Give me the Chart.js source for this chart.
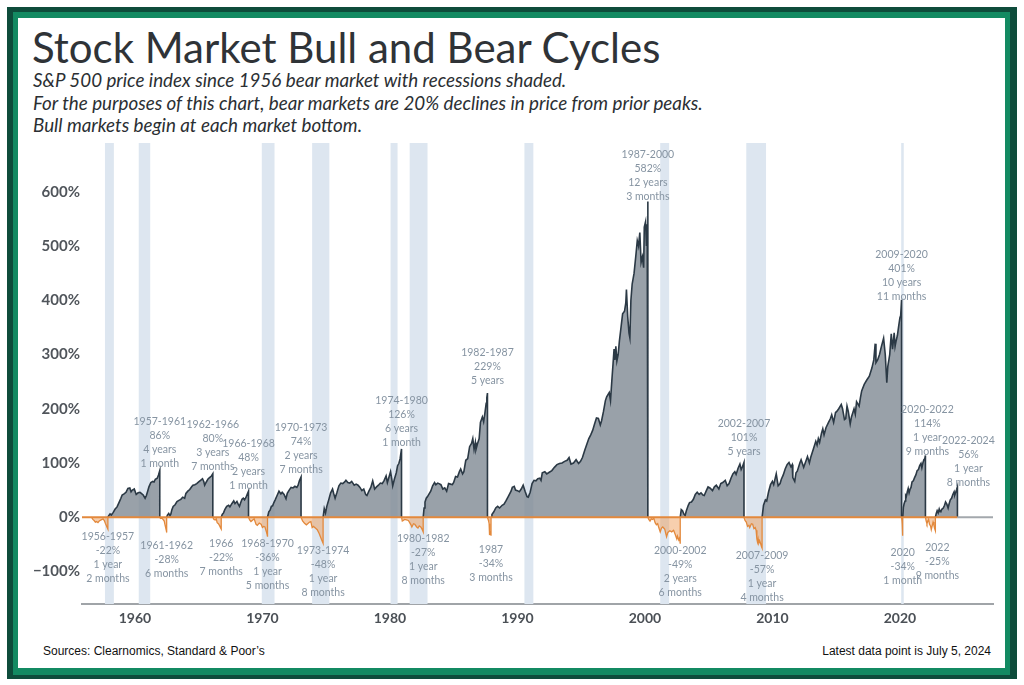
<!DOCTYPE html>
<html>
<head>
<meta charset="utf-8">
<title>Stock Market Bull and Bear Cycles</title>
<script src="https://cdn.jsdelivr.net/npm/chart.js@4.4.1/dist/chart.umd.min.js"></script>
<style>
    html, body { margin: 0; padding: 0; background: #fff; }
    body { width: 1024px; height: 685px; position: relative; overflow: hidden; font-family: Lato, "Noto Sans", sans-serif; }
    .frame-outer { position: absolute; left: 7px; top: 7px; width: 1010px; height: 672px; background: #0e4c3b; }
    .frame-inner { position: absolute; left: 13px; top: 12px; width: 997px; height: 663px; background: #138a62; }
    .paper { position: absolute; left: 18px; top: 18px; width: 987px; height: 650px; background: #fff; }
    #title { position: absolute; left: 32px; top: 22px; font-size: 42px; color: #2f3337; white-space: nowrap; }
    #subtitle { position: absolute; left: 33px; top: 69px; font-size: 18.8px; line-height: 22.5px; font-style: italic; color: #2b2f33; white-space: nowrap; }
    #chart-box { position: absolute; left: 20px; top: 130px; width: 980px; height: 510px; }
    .note { position: absolute; top: 644px; font-family: "Liberation Sans", Arial, sans-serif; font-size: 12px; color: #111; white-space: nowrap; }
</style>
</head>
<body>
<div class="frame-outer"></div>
<div class="frame-inner"></div>
<div class="paper"></div>
<div id="title">Stock Market Bull and Bear Cycles</div>
<div id="subtitle">S&amp;P 500 price index since 1956 bear market with recessions shaded.<br>For the purposes of this chart, bear markets are 20% declines in price from prior peaks.<br>Bull markets begin at each market bottom.</div>
<div id="chart-box"><canvas id="cycles" width="980" height="510"></canvas></div>
<div class="note" style="left:43px;">Sources: Clearnomics, Standard &amp; Poor’s</div>
<div class="note" style="right:33px;">Latest data point is July 5, 2024</div>

<script>
// Axis ticks
const xTicks = [1960, 1970, 1980, 1990, 2000, 2010, 2020];
const yTicks = [-100, 0, 100, 200, 300, 400, 500, 600];

// Recessions [start, end] in years
const recessions = [
    [1957.65, 1958.35], [1960.3, 1961.2], [1969.95, 1970.95], [1973.9, 1975.25],
    [1980.05, 1980.6], [1981.55, 1982.95], [1990.55, 1991.25], [2001.2, 2001.9],
    [2007.95, 2009.5], [2020.1, 2020.3]
];

// Bear markets: [year, % change from prior peak]
const bear1956 = [[1956.59,0],[1956.7,-4],[1956.8,-6],[1956.9,-9],[1957.0,-8],[1957.1,-10],[1957.2,-7],[1957.35,-5],[1957.5,-3],[1957.6,-6],[1957.68,-11],[1957.75,-15],[1957.82,-19],[1957.88,-22]];
const bear1961 = [[1961.95,0],[1962.0,-2],[1962.1,-1],[1962.2,-4],[1962.3,-7],[1962.37,-15],[1962.42,-20],[1962.46,-24],[1962.49,-28]];
const bear1966 = [[1966.11,0],[1966.2,-4],[1966.3,-5],[1966.38,-3],[1966.45,-10],[1966.55,-12],[1966.65,-16],[1966.72,-20],[1966.77,-22]];
const bear1968 = [[1968.91,0],[1969.0,-5],[1969.1,-8],[1969.2,-6],[1969.35,-3],[1969.5,-13],[1969.6,-15],[1969.75,-11],[1969.9,-13],[1970.0,-19],[1970.1,-17],[1970.2,-18],[1970.3,-26],[1970.36,-31],[1970.4,-36]];
const bear1973 = [[1973.03,0],[1973.15,-7],[1973.3,-11],[1973.45,-14],[1973.55,-12],[1973.7,-9],[1973.8,-8],[1973.9,-19],[1974.0,-17],[1974.15,-20],[1974.3,-23],[1974.45,-30],[1974.55,-36],[1974.65,-42],[1974.76,-48]];
const bear1980 = [[1980.91,0],[1980.97,-7],[1981.05,-6],[1981.15,-4],[1981.3,-5],[1981.45,-6],[1981.55,-10],[1981.65,-14],[1981.72,-18],[1981.85,-12],[1981.95,-13],[1982.1,-18],[1982.2,-20],[1982.3,-16],[1982.42,-18],[1982.52,-22],[1982.61,-27]];
const bear1987 = [[1987.65,0],[1987.7,-4],[1987.75,-8],[1987.78,-12],[1987.8,-33],[1987.83,-26],[1987.88,-27],[1987.93,-34]];
const bear2000 = [[2000.23,0],[2000.3,-4],[2000.4,-7],[2000.5,-3],[2000.6,-4],[2000.7,-2],[2000.8,-10],[2000.9,-14],[2001.0,-12],[2001.1,-20],[2001.2,-27],[2001.3,-20],[2001.4,-18],[2001.55,-22],[2001.7,-36],[2001.8,-28],[2001.95,-25],[2002.1,-27],[2002.25,-24],[2002.35,-30],[2002.5,-40],[2002.55,-35],[2002.65,-42],[2002.72,-38],[2002.77,-49]];
const bear2007 = [[2007.77,0],[2007.85,-6],[2007.95,-9],[2008.05,-17],[2008.15,-15],[2008.22,-19],[2008.35,-12],[2008.45,-13],[2008.55,-21],[2008.65,-19],[2008.72,-24],[2008.78,-40],[2008.83,-46],[2008.88,-40],[2008.93,-48],[2009.0,-44],[2009.08,-49],[2009.14,-54],[2009.19,-57]];
const bear2020 = [[2020.13,0],[2020.16,-6],[2020.18,-13],[2020.2,-25],[2020.22,-34]];
const bear2022 = [[2022.0,0],[2022.05,-6],[2022.12,-12],[2022.18,-8],[2022.25,-4],[2022.32,-13],[2022.4,-16],[2022.46,-23],[2022.52,-17],[2022.6,-9],[2022.66,-14],[2022.72,-21],[2022.78,-25]];

// Bull markets: [year, % gain from market bottom]
const bull1957 = [[1957.88,0],[1957.95,3],[1958.05,6],[1958.15,4],[1958.3,9],[1958.45,15],[1958.6,19],[1958.75,27],[1958.9,35],[1959.0,41],[1959.15,43],[1959.3,46],[1959.45,53],[1959.6,54],[1959.7,47],[1959.8,50],[1959.95,52],[1960.1,42],[1960.25,45],[1960.4,46],[1960.5,44],[1960.65,41],[1960.8,35],[1960.9,40],[1961.0,48],[1961.1,56],[1961.25,64],[1961.4,66],[1961.5,65],[1961.6,70],[1961.75,72],[1961.85,78],[1961.95,86]];
const bull1962 = [[1962.49,0],[1962.55,4],[1962.65,7],[1962.75,3],[1962.82,6],[1962.9,14],[1963.0,20],[1963.15,23],[1963.3,29],[1963.45,31],[1963.6,33],[1963.75,37],[1963.9,35],[1964.0,44],[1964.15,48],[1964.3,51],[1964.45,56],[1964.55,59],[1964.7,60],[1964.85,62],[1965.0,65],[1965.15,68],[1965.3,71],[1965.4,66],[1965.47,59],[1965.6,65],[1965.75,71],[1965.9,74],[1966.0,76],[1966.11,80]];
const bull1966 = [[1966.77,0],[1966.85,5],[1966.95,8],[1967.05,14],[1967.2,20],[1967.35,22],[1967.45,19],[1967.6,25],[1967.75,30],[1967.85,25],[1968.0,29],[1968.1,24],[1968.2,20],[1968.3,27],[1968.4,33],[1968.5,35],[1968.6,32],[1968.7,36],[1968.8,42],[1968.91,48]];
const bull1970 = [[1970.4,0],[1970.5,10],[1970.6,13],[1970.7,20],[1970.8,21],[1970.9,27],[1971.0,32],[1971.15,40],[1971.3,48],[1971.45,43],[1971.55,46],[1971.7,42],[1971.85,34],[1971.95,44],[1972.1,50],[1972.25,55],[1972.4,54],[1972.55,57],[1972.7,55],[1972.8,59],[1972.9,67],[1973.03,74]];
const bull1974 = [[1974.76,0],[1974.85,16],[1974.95,8],[1975.05,20],[1975.2,32],[1975.35,45],[1975.5,52],[1975.6,43],[1975.7,35],[1975.85,46],[1976.0,58],[1976.15,63],[1976.3,62],[1976.45,65],[1976.55,68],[1976.7,64],[1976.85,63],[1977.0,66],[1977.2,59],[1977.35,61],[1977.5,59],[1977.65,55],[1977.8,49],[1977.95,52],[1978.1,42],[1978.2,40],[1978.35,48],[1978.5,55],[1978.65,67],[1978.8,52],[1978.95,56],[1979.1,59],[1979.25,63],[1979.4,62],[1979.55,68],[1979.7,76],[1979.8,64],[1979.9,72],[1980.05,84],[1980.15,70],[1980.22,58],[1980.35,70],[1980.5,82],[1980.6,95],[1980.7,99],[1980.8,108],[1980.91,126]];
const bull1982 = [[1982.61,0],[1982.68,17],[1982.75,28],[1982.85,35],[1982.95,38],[1983.05,42],[1983.2,48],[1983.35,58],[1983.5,64],[1983.6,60],[1983.75,63],[1983.85,62],[1984.0,60],[1984.15,52],[1984.3,54],[1984.45,48],[1984.6,62],[1984.75,61],[1984.9,60],[1985.0,64],[1985.15,75],[1985.3,74],[1985.45,84],[1985.55,89],[1985.7,80],[1985.8,84],[1985.95,105],[1986.1,108],[1986.25,130],[1986.4,136],[1986.5,145],[1986.6,125],[1986.7,138],[1986.75,125],[1986.9,138],[1987.0,145],[1987.1,175],[1987.25,185],[1987.35,176],[1987.45,192],[1987.55,210],[1987.6,220],[1987.65,229]];
const bull1987 = [[1987.93,0],[1988.0,5],[1988.15,10],[1988.3,17],[1988.45,20],[1988.6,17],[1988.8,22],[1988.95,24],[1989.1,30],[1989.3,39],[1989.5,48],[1989.6,55],[1989.75,57],[1989.85,50],[1990.0,49],[1990.15,47],[1990.3,52],[1990.45,59],[1990.6,48],[1990.75,38],[1990.85,37],[1991.0,46],[1991.15,62],[1991.3,68],[1991.45,67],[1991.6,71],[1991.75,72],[1991.85,68],[1991.95,82],[1992.15,84],[1992.3,80],[1992.5,83],[1992.7,86],[1992.9,92],[1993.1,97],[1993.3,99],[1993.5,100],[1993.7,103],[1993.9,105],[1994.05,110],[1994.2,98],[1994.4,100],[1994.6,106],[1994.8,99],[1994.95,103],[1995.1,110],[1995.3,125],[1995.45,135],[1995.6,145],[1995.75,152],[1995.9,160],[1996.05,172],[1996.2,183],[1996.35,182],[1996.5,170],[1996.6,178],[1996.75,195],[1996.9,215],[1997.0,222],[1997.2,230],[1997.3,215],[1997.4,250],[1997.5,283],[1997.58,310],[1997.65,290],[1997.72,315],[1997.8,288],[1997.9,300],[1998.0,325],[1998.1,345],[1998.25,375],[1998.4,380],[1998.5,395],[1998.55,420],[1998.65,370],[1998.75,340],[1998.82,331],[1998.9,400],[1999.0,430],[1999.15,450],[1999.3,485],[1999.4,510],[1999.5,500],[1999.6,525],[1999.7,470],[1999.8,480],[1999.9,460],[1999.95,535],[2000.05,545],[2000.12,500],[2000.18,540],[2000.23,582]];
const bull2002 = [[2002.77,0],[2002.85,14],[2002.95,12],[2003.05,6],[2003.15,3],[2003.25,12],[2003.4,22],[2003.5,27],[2003.65,28],[2003.8,33],[2003.95,42],[2004.1,46],[2004.25,42],[2004.4,45],[2004.55,41],[2004.65,40],[2004.8,48],[2004.95,56],[2005.1,54],[2005.3,49],[2005.45,56],[2005.6,59],[2005.8,52],[2005.95,62],[2006.1,64],[2006.3,68],[2006.45,58],[2006.6,62],[2006.75,72],[2006.9,80],[2007.05,84],[2007.15,79],[2007.3,90],[2007.45,98],[2007.55,88],[2007.65,93],[2007.77,101]];
const bull2009 = [[2009.19,0],[2009.3,22],[2009.45,32],[2009.55,30],[2009.7,47],[2009.85,60],[2010.0,66],[2010.1,60],[2010.3,80],[2010.45,58],[2010.6,62],[2010.7,70],[2010.85,78],[2011.0,89],[2011.15,97],[2011.3,101],[2011.45,93],[2011.55,97],[2011.6,73],[2011.75,66],[2011.85,82],[2011.95,85],[2012.15,100],[2012.25,106],[2012.45,92],[2012.6,102],[2012.75,112],[2012.9,100],[2013.0,110],[2013.2,125],[2013.4,140],[2013.5,133],[2013.6,145],[2013.7,138],[2013.85,155],[2013.95,163],[2014.05,152],[2014.2,165],[2014.4,175],[2014.55,182],[2014.65,189],[2014.8,175],[2014.95,193],[2015.05,195],[2015.2,200],[2015.4,208],[2015.5,200],[2015.65,180],[2015.75,182],[2015.85,205],[2015.95,195],[2016.1,172],[2016.2,185],[2016.4,200],[2016.5,190],[2016.6,213],[2016.8,205],[2016.9,220],[2017.0,233],[2017.2,245],[2017.4,253],[2017.6,260],[2017.8,275],[2017.95,290],[2018.06,320],[2018.12,285],[2018.25,290],[2018.4,300],[2018.55,315],[2018.72,330],[2018.85,300],[2018.97,248],[2019.05,278],[2019.2,300],[2019.32,338],[2019.42,310],[2019.55,340],[2019.62,315],[2019.7,325],[2019.8,335],[2019.9,352],[2020.0,368],[2020.06,372],[2020.13,401]];
const bull2020 = [[2020.22,0],[2020.27,18],[2020.33,25],[2020.4,30],[2020.45,40],[2020.5,38],[2020.58,47],[2020.65,53],[2020.72,45],[2020.8,52],[2020.87,55],[2020.95,65],[2021.05,67],[2021.15,73],[2021.25,78],[2021.35,86],[2021.45,88],[2021.55,95],[2021.65,99],[2021.72,91],[2021.8,100],[2021.88,106],[2021.95,108],[2022.0,114]];
const bull2022 = [[2022.78,0],[2022.85,7],[2022.92,12],[2023.0,8],[2023.08,15],[2023.15,10],[2023.22,12],[2023.3,15],[2023.4,17],[2023.5,22],[2023.58,28],[2023.68,24],[2023.78,17],[2023.85,24],[2023.95,32],[2024.05,35],[2024.15,42],[2024.25,47],[2024.3,41],[2024.38,46],[2024.45,51],[2024.51,56]];

const bearCycles = [bear1956, bear1961, bear1966, bear1968, bear1973, bear1980, bear1987, bear2000, bear2007, bear2020, bear2022];
const bullCycles = [bull1957, bull1962, bull1966, bull1970, bull1974, bull1982, bull1987, bull2002, bull2009, bull2020, bull2022];

// Annotation text for each cycle
const bearLabels = [
    ['1956-1957', '-22%', '1 year', '2 months'], ['1961-1962', '-28%', '6 months'], ['1966', '-22%', '7 months'],
    ['1968-1970', '-36%', '1 year', '5 months'], ['1973-1974', '-48%', '1 year', '8 months'], ['1980-1982', '-27%', '1 year', '8 months'],
    ['1987', '-34%', '3 months'], ['2000-2002', '-49%', '2 years', '6 months'], ['2007-2009', '-57%', '1 year', '4 months'],
    ['2020', '-34%', '1 month'], ['2022', '-25%', '9 months']
];
const bullLabels = [
    ['1957-1961', '86%', '4 years', '1 month'], ['1962-1966', '80%', '3 years', '7 months'], ['1966-1968', '48%', '2 years', '1 month'],
    ['1970-1973', '74%', '2 years', '7 months'], ['1974-1980', '126%', '6 years', '1 month'], ['1982-1987', '229%', '5 years'],
    ['1987-2000', '582%', '12 years', '3 months'], ['2002-2007', '101%', '5 years'], ['2009-2020', '401%', '10 years', '11 months'],
    ['2020-2022', '114%', '1 year', '9 months'], ['2022-2024', '56%', '1 year', '8 months']
];

// small pixel nudges so labels don't collide
const bearNudge = [[0, 0], [0, 6], [0, 7], [0, 0], [0, 0], [0, 0], [0, 7], [0, 0], [0, 0], [0, 10], [2, 10]];
const bullNudge = [[0, 0], [0, 0], [0, 1], [0, 0], [0, 1], [0, -5], [0, 2], [0, -4], [0, 4], [2, 3], [11, 3]];

const GRAY_LINE = '#2b3945';
const GRAY_FILL = 'rgba(128, 138, 148, 0.8)';
const ORANGE_LINE = '#e3893c';
const ORANGE_FILL = 'rgba(238, 155, 85, 0.48)';
const LABEL_COLOR = '#8694a2';

function toPoints(cycle) {
    const pts = cycle.map(p => ({ x: p[0], y: p[1] }));
    // each cycle snaps back to zero when it ends
    pts.push({ x: cycle[cycle.length - 1][0], y: 0 });
    return pts;
}

const datasets = [];
bullCycles.forEach(c => datasets.push({
    data: toPoints(c), borderColor: GRAY_LINE, backgroundColor: GRAY_FILL,
    borderWidth: 1.6, fill: 'origin', pointRadius: 0, tension: 0, order: 1
}));
bearCycles.forEach(c => datasets.push({
    data: toPoints(c), borderColor: ORANGE_LINE, backgroundColor: ORANGE_FILL,
    borderWidth: 1.3, fill: 'origin', pointRadius: 0, tension: 0, order: 2
}));

const lastYear = bull2022[bull2022.length - 1][0];

// Recession bands behind the data
const recessionBands = {
    id: 'recessionBands',
    beforeDatasetsDraw(chart) {
        const { ctx, chartArea, scales } = chart;
        ctx.save();
        ctx.fillStyle = '#dde6f0';
        recessions.forEach(r => {
            const x0 = scales.x.getPixelForValue(r[0]);
            const x1 = scales.x.getPixelForValue(r[1]);
            ctx.fillRect(x0, chartArea.top, x1 - x0, chartArea.bottom - chartArea.top);
        });
        ctx.restore();
    }
};

// Zero line and cycle labels on top
const cycleLabels = {
    id: 'cycleLabels',
    afterDatasetsDraw(chart) {
        const { ctx, chartArea, scales } = chart;
        const zy = scales.y.getPixelForValue(0);
        const xEnd = scales.x.getPixelForValue(lastYear);
        ctx.save();
        ctx.lineWidth = 2;
        ctx.strokeStyle = ORANGE_LINE;
        ctx.beginPath();
        ctx.moveTo(chartArea.left, zy);
        ctx.lineTo(xEnd, zy);
        ctx.stroke();
        ctx.strokeStyle = '#a3a8ad';
        ctx.beginPath();
        ctx.moveTo(xEnd, zy);
        ctx.lineTo(chartArea.right, zy);
        ctx.stroke();

        ctx.fillStyle = LABEL_COLOR;
        ctx.font = '10.5px Lato, "Noto Sans", sans-serif';
        ctx.textAlign = 'center';
        ctx.textBaseline = 'middle';
        const lineH = 14;

        bullCycles.forEach((c, i) => {
            const end = c[c.length - 1];
            const lines = bullLabels[i];
            const x = scales.x.getPixelForValue(end[0]) + bullNudge[i][0];
            const lastY = scales.y.getPixelForValue(end[1]) - 7 + bullNudge[i][1];
            lines.forEach((t, j) => ctx.fillText(t, x, lastY - (lines.length - 1 - j) * lineH));
        });
        bearCycles.forEach((c, i) => {
            const end = c[c.length - 1];
            const lines = bearLabels[i];
            const x = scales.x.getPixelForValue(end[0]) + bearNudge[i][0];
            const firstY = scales.y.getPixelForValue(end[1]) + 7 + bearNudge[i][1];
            lines.forEach((t, j) => ctx.fillText(t, x, firstY + j * lineH));
        });
        ctx.restore();
    }
};

new Chart(document.getElementById('cycles').getContext('2d'), {
    type: 'line',
    data: { datasets: datasets },
    options: {
        responsive: false,
        animation: false,
        layout: { padding: { top: 13, right: 7, left: 0, bottom: 0 } },
        plugins: { legend: { display: false }, tooltip: { enabled: false } },
        scales: {
            x: {
                type: 'linear',
                min: 1955.85,
                max: 2027.3,
                afterBuildTicks: axis => { axis.ticks = xTicks.map(v => ({ value: v })); },
                afterFit: axis => { axis.height = 36; },
                ticks: {
                    callback: v => String(v),
                    font: { family: 'Lato', size: 14, weight: 'bold' },
                    color: '#4b5056',
                    padding: 6,
                    maxRotation: 0
                },
                grid: { display: false, drawTicks: false },
                border: { display: true, color: '#a0a4a8', width: 2 }
            },
            y: {
                min: -160,
                max: 690,
                afterBuildTicks: axis => { axis.ticks = yTicks.map(v => ({ value: v })); },
                afterFit: axis => { axis.width = 62; },
                ticks: {
                    callback: v => (v < 0 ? '\u2212' : '') + Math.abs(v) + '%',
                    font: { family: 'Lato', size: 15, weight: 'bold' },
                    color: '#50555b',
                    padding: 2
                },
                grid: { display: false, drawTicks: false },
                border: { display: false }
            }
        }
    },
    plugins: [recessionBands, cycleLabels]
});
</script>
</body>
</html>
